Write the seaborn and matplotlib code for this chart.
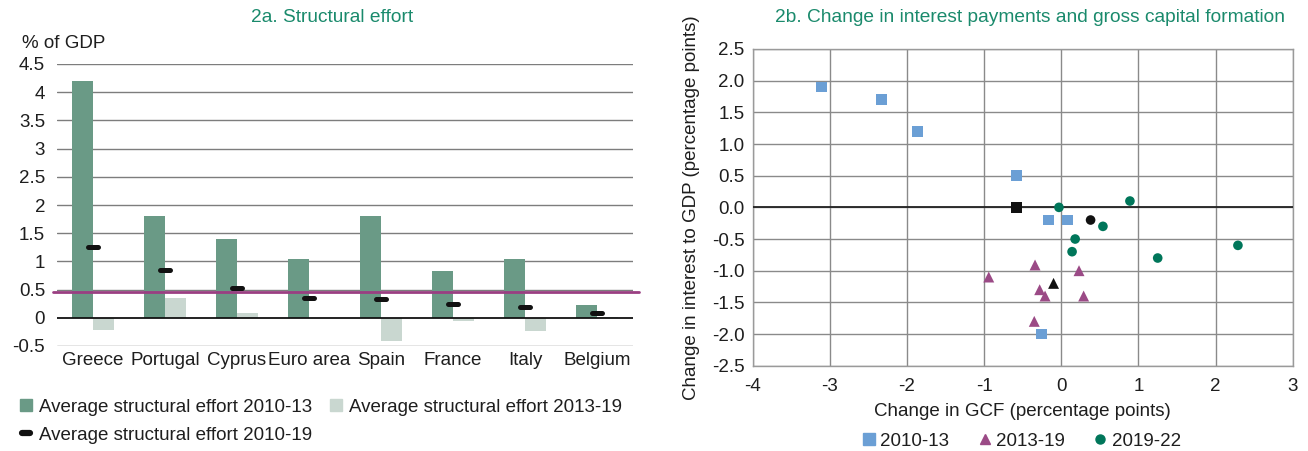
import numpy as np
import pandas as pd
import matplotlib
matplotlib.use("Agg")
import matplotlib.pyplot as plt
from matplotlib.lines import Line2D
from matplotlib.markers import MarkerStyle
import seaborn as sns

# ---------------- data: panel 2a ----------------
countries = ["Greece", "Portugal", "Cyprus", "Euro area", "Spain", "France", "Italy", "Belgium"]
effort_2010_13 = [4.20, 1.80, 1.40, 1.04, 1.80, 0.83, 1.04, 0.23]
effort_2013_19 = [-0.22, 0.35, 0.08, 0.00, -0.42, -0.05, -0.24, 0.01]
effort_2010_19 = [1.26, 0.84, 0.52, 0.35, 0.33, 0.24, 0.19, 0.09]
benchmark = 0.45
y_ticks_a = [-0.5, 0, 0.5, 1, 1.5, 2, 2.5, 3, 3.5, 4, 4.5]

# ---------------- data: panel 2b ----------------
gcf_2010_13 = [-3.11, -2.33, -1.86, -0.58, -0.17, 0.08, -0.26]
int_2010_13 = [1.90, 1.70, 1.20, 0.50, -0.20, -0.20, -2.00]
gcf_2013_19 = [-0.94, -0.34, 0.23, -0.28, -0.21, 0.29, -0.35]
int_2013_19 = [-1.10, -0.91, -1.00, -1.30, -1.40, -1.40, -1.80]
gcf_2019_22 = [-0.03, 0.89, 0.54, 0.18, 0.14, 1.25, 2.29]
int_2019_22 = [0.00, 0.10, -0.30, -0.50, -0.70, -0.80, -0.60]
avg_gcf = [-0.58, -0.10, 0.38]
avg_int = [0.00, -1.20, -0.20]
avg_period = ["2010-13", "2013-19", "2019-22"]
periods = ["2010-13", "2013-19", "2019-22"]

# ---------------- style ----------------
sns.set_theme(style="white")
plt.rcParams["font.family"] = ["Liberation Sans", "DejaVu Sans"]
FS = 13.5
TFS = 13.8
TXT = "#1e1e1e"
TITLE_C = "#1a8a6c"
GREEN_BAR = "#6a9a86"
LIGHT_BAR = "#c9d7d0"
MAGENTA = "#9a3f82"
BLUE = "#6b9fd5"
PURPLE = "#9b4a86"
DKGREEN = "#00765a"

fig = plt.figure(figsize=(13.08, 4.51), dpi=100)
ax1 = fig.add_axes([57 / 1308, 1 - 346 / 451, 576 / 1308, 282 / 451])
ax2 = fig.add_axes([752.7 / 1308, 1 - 365.7 / 451, 540 / 1308, 316.7 / 451])

# ---------------- panel 2a ----------------
df_bars = pd.DataFrame({
    "country": countries * 2,
    "value": effort_2010_13 + effort_2013_19,
    "series": ["Average structural effort 2010-13"] * len(countries)
              + ["Average structural effort 2013-19"] * len(countries),
})
sns.barplot(data=df_bars, x="country", y="value", hue="series",
            palette=[GREEN_BAR, LIGHT_BAR], width=0.57, saturation=1,
            legend=False, ax=ax1, zorder=3, edgecolor="none")

ax1.set_ylim(-0.5, 4.5)
ax1.set_xlim(-0.5, len(countries) - 0.5)
ax1.set_yticks(y_ticks_a)
ax1.set_yticklabels([f"{v:g}" for v in y_ticks_a])
for v in y_ticks_a:
    if v != 0:
        ax1.axhline(v, color="#7d7d7d", lw=1.0, zorder=1)
ax1.axhline(0, color="#111111", lw=1.3, zorder=4)
ax1.axhline(benchmark, xmin=-0.007, xmax=1.011, color=MAGENTA, lw=2.0,
            zorder=5, clip_on=False)

dash = MarkerStyle("_", capstyle="round")
ax1.plot(np.arange(len(countries)), effort_2010_19, ls="none", marker=dash,
         markersize=6.5, markeredgewidth=3.6, color="#111111", zorder=6)

for s in ax1.spines.values():
    s.set_visible(False)
ax1.set_xlabel("")
ax1.set_ylabel("")
ax1.tick_params(axis="y", length=0, pad=8.5, labelsize=FS, labelcolor=TXT)
ax1.tick_params(axis="x", length=0, pad=4, labelsize=FS, labelcolor=TXT)
ax1.grid(False)

fig.text(22 / 1308, 1 - 43 / 451, "% of GDP", fontsize=FS, color=TXT,
         ha="left", va="center")
fig.text(332 / 1308, 1 - 18 / 451, "2a. Structural effort", fontsize=TFS,
         color=TITLE_C, ha="center", va="center")

h1 = Line2D([], [], marker="s", ls="", color=GREEN_BAR, markersize=8)
h2 = Line2D([], [], marker="s", ls="", color=LIGHT_BAR, markersize=8)
h3 = Line2D([], [], marker=dash, ls="", color="#111111", markersize=5.5,
            markeredgewidth=4.5)
fig.legend(handles=[h1, h3, h2],
           labels=["Average structural effort 2010-13",
                   "Average structural effort 2010-19",
                   "Average structural effort 2013-19"],
           ncol=2, loc="upper left", bbox_to_anchor=(10 / 1308, 1 - 389 / 451),
           frameon=False, fontsize=FS, handlelength=0.7, handletextpad=0.35,
           columnspacing=0.9, labelspacing=0.6, borderpad=0, labelcolor=TXT)

# ---------------- panel 2b ----------------
df_sc = pd.DataFrame({
    "gcf": gcf_2010_13 + gcf_2013_19 + gcf_2019_22,
    "interest": int_2010_13 + int_2013_19 + int_2019_22,
    "period": [periods[0]] * len(gcf_2010_13) + [periods[1]] * len(gcf_2013_19)
              + [periods[2]] * len(gcf_2019_22),
})
marker_map = {"2010-13": "s", "2013-19": "^", "2019-22": "o"}
size_map = {"2010-13": 62, "2013-19": 62, "2019-22": 48}
color_map = {"2010-13": BLUE, "2013-19": PURPLE, "2019-22": DKGREEN}

for p in periods:
    sub = df_sc[df_sc["period"] == p]
    sns.scatterplot(data=sub, x="gcf", y="interest", marker=marker_map[p],
                    s=size_map[p], color=color_map[p], edgecolor="none",
                    linewidth=0, ax=ax2, zorder=5, legend=False)
df_avg = pd.DataFrame({"gcf": avg_gcf, "interest": avg_int, "period": avg_period})
for _, r in df_avg.iterrows():
    sns.scatterplot(x=[r["gcf"]], y=[r["interest"]], marker=marker_map[r["period"]],
                    s=size_map[r["period"]], color="#111111", edgecolor="none",
                    linewidth=0, ax=ax2, zorder=6, legend=False)

ax2.set_xlim(-4, 3)
ax2.set_ylim(-2.5, 2.5)
x_ticks_b = [-4, -3, -2, -1, 0, 1, 2, 3]
y_ticks_b = [-2.5, -2.0, -1.5, -1.0, -0.5, 0.0, 0.5, 1.0, 1.5, 2.0, 2.5]
ax2.set_xticks(x_ticks_b)
ax2.set_xticklabels([f"{v:d}" for v in x_ticks_b])
ax2.set_yticks(y_ticks_b)
ax2.set_yticklabels([f"{v:.1f}" for v in y_ticks_b])
ax2.grid(True, color="#8a8a8a", lw=1.0)
ax2.set_axisbelow(True)
ax2.axhline(0, color="#222222", lw=1.3, zorder=3)
for s in ax2.spines.values():
    s.set_visible(True)
    s.set_color("#9a9a9a")
    s.set_linewidth(1.0)
ax2.tick_params(axis="both", length=0, labelsize=FS, labelcolor=TXT)
ax2.tick_params(axis="y", pad=6)
ax2.tick_params(axis="x", pad=9)
ax2.set_xlabel("Change in GCF (percentage points)", fontsize=FS, color=TXT)
ax2.set_ylabel("Change in interest to GDP (percentage points)", fontsize=FS, color=TXT)
ax2.xaxis.set_label_coords((1022 - 752.7) / 540, -(403 - 365.7) / 316.7)
ax2.yaxis.set_label_coords((700 - 752.7) / 540, 0.5)

fig.text(1030 / 1308, 1 - 18 / 451,
         "2b. Change in interest payments and gross capital formation",
         fontsize=TFS, color=TITLE_C, ha="center", va="center")

lh = [Line2D([], [], marker=marker_map[p], ls="", color=color_map[p],
             markersize={"2010-13": 8, "2013-19": 7, "2019-22": 6.5}[p]) for p in periods]
fig.legend(handles=lh, labels=periods, ncol=3, loc="center",
           bbox_to_anchor=(1022 / 1308, 1 - 441 / 451), frameon=False,
           fontsize=FS, handlelength=0.6, handletextpad=0.3, columnspacing=1.6,
           borderpad=0, labelcolor=TXT)

fig.savefig("out.png", dpi=100)
